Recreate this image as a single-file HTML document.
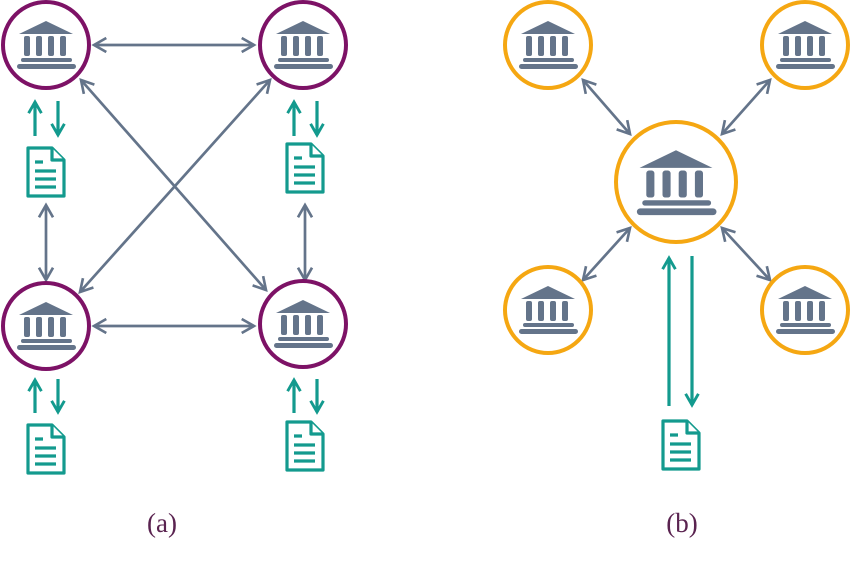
<!DOCTYPE html>
<html><head><style>
html,body{margin:0;padding:0;background:#fff;}
svg{display:block}
</style></head><body>
<svg width="850" height="561" viewBox="0 0 850 561" xmlns="http://www.w3.org/2000/svg">
<defs>
<g id="bank" fill="#64748a">
  <polygon points="-27,-9 0,-22 27,-9"/>
  <rect x="-22" y="-7" width="6" height="20" rx="2"/>
  <rect x="-10" y="-7" width="6" height="20" rx="2"/>
  <rect x="2" y="-7" width="6" height="20" rx="2"/>
  <rect x="14" y="-7" width="6" height="20" rx="2"/>
  <rect x="-25" y="15" width="51" height="4" rx="2"/>
  <rect x="-29" y="21" width="59" height="5" rx="2.5"/>
</g>
<g id="doc" fill="none" stroke="#139a8e" stroke-width="3.2" stroke-linejoin="round">
  <path d="M-18,-24 H6 L18,-12 V24 H-18 Z"/>
  <path d="M6,-24 V-12 H18" fill="#fff"/>
  <path d="M-11,-10 H-3 M-11,-1 H10 M-11,7 H10 M-11,15 H10"/>
</g>
<marker id="ga" viewBox="0 0 10 10" refX="8" refY="5" markerWidth="6.5" markerHeight="6.5" orient="auto-start-reverse" markerUnits="strokeWidth">
  <path d="M1,1 L8,5 L1,9" fill="none" stroke="#64748a" stroke-width="1.5"/>
</marker>
<marker id="ta" viewBox="0 0 10 10" refX="8" refY="5" markerWidth="5" markerHeight="5" orient="auto" markerUnits="strokeWidth">
  <path d="M1,1 L8,5 L1,9" fill="none" stroke="#139a8e" stroke-width="1.8"/>
</marker>
</defs>

<g stroke="#64748a" stroke-width="2.7" marker-start="url(#ga)" marker-end="url(#ga)">
  <line x1="94" y1="45" x2="254" y2="45"/>
  <line x1="94" y1="326" x2="254" y2="326"/>
  <line x1="81" y1="80" x2="266" y2="290"/>
  <line x1="270" y1="80" x2="80" y2="292"/>
  <line x1="46" y1="205" x2="46" y2="280"/>
  <line x1="305" y1="205" x2="305" y2="280"/>
</g>
<g stroke="#139a8e" stroke-width="3.2" marker-end="url(#ta)">
  <line x1="35" y1="136" x2="35" y2="102"/>
  <line x1="58" y1="101" x2="58" y2="135"/>
  <line x1="294" y1="136" x2="294" y2="102"/>
  <line x1="317" y1="101" x2="317" y2="135"/>
  <line x1="35" y1="413" x2="35" y2="380"/>
  <line x1="58" y1="379" x2="58" y2="412"/>
  <line x1="294" y1="413" x2="294" y2="380"/>
  <line x1="317" y1="379" x2="317" y2="412"/>
</g>
<g fill="#fff" stroke="#7d1266" stroke-width="4">
  <circle cx="46" cy="45" r="43"/>
  <circle cx="303" cy="45" r="43"/>
  <circle cx="46" cy="326" r="43"/>
  <circle cx="303" cy="324" r="43"/>
</g>
<use href="#bank" x="46" y="43"/>
<use href="#bank" x="303" y="43"/>
<use href="#bank" x="46" y="324"/>
<use href="#bank" x="303" y="322"/>
<use href="#doc" x="46" y="172"/>
<use href="#doc" x="305" y="168"/>
<use href="#doc" x="46" y="449"/>
<use href="#doc" x="305" y="446"/>

<g stroke="#64748a" stroke-width="2.7" marker-start="url(#ga)" marker-end="url(#ga)">
  <line x1="583" y1="80" x2="630" y2="134"/>
  <line x1="770" y1="80" x2="722" y2="134"/>
  <line x1="583" y1="280" x2="630" y2="228"/>
  <line x1="770" y1="280" x2="722" y2="228"/>
</g>
<g stroke="#139a8e" stroke-width="3.2" marker-end="url(#ta)">
  <line x1="669" y1="406" x2="669" y2="258"/>
  <line x1="692" y1="256" x2="692" y2="405"/>
</g>
<g fill="#fff" stroke="#f5a712" stroke-width="4">
  <circle cx="548" cy="45" r="43"/>
  <circle cx="805" cy="45" r="43"/>
  <circle cx="548" cy="310" r="43"/>
  <circle cx="805" cy="310" r="43"/>
  <circle cx="676" cy="182" r="60"/>
</g>
<use href="#bank" x="548" y="43"/>
<use href="#bank" x="805" y="43"/>
<use href="#bank" x="548" y="308"/>
<use href="#bank" x="805" y="308"/>
<use href="#bank" x="676" y="180" transform="translate(676 180) scale(1.35) translate(-676 -180)"/>
<use href="#doc" x="681" y="445"/>

<text x="162" y="532" font-family="Liberation Serif, serif" font-size="27" fill="#5a2350" text-anchor="middle">(a)</text>
<text x="682" y="532" font-family="Liberation Serif, serif" font-size="27" fill="#5a2350" text-anchor="middle">(b)</text>
</svg>
</body></html>
